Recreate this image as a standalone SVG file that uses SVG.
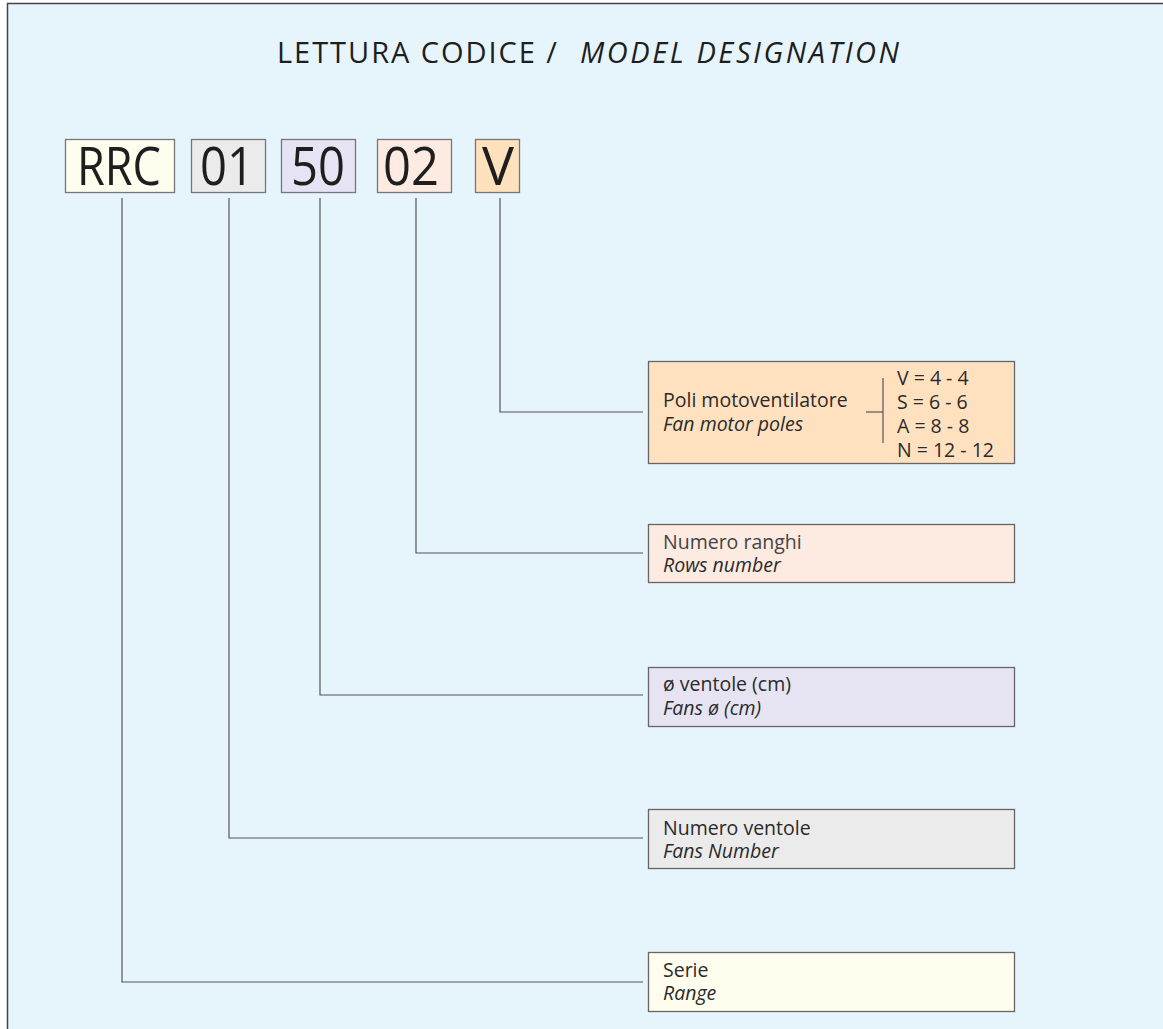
<svg xmlns="http://www.w3.org/2000/svg" width="1163" height="1029" viewBox="0 0 1163 1029">
<style>
.code{stroke:#777;stroke-width:1.3}
.code-t{font-family:"Open Sans","Liberation Sans",sans-serif;font-size:53px;fill:#1e1e1e;text-anchor:middle}
.desc{stroke:#666;stroke-width:1.3}
.t{font-family:"Open Sans","Liberation Sans",sans-serif;font-size:19.5px;fill:#2a2a2a}
.i{font-style:italic}
.conn{fill:none;stroke:#555;stroke-width:1.2}
.title{font-family:"Open Sans","Liberation Sans",sans-serif;font-size:29px;fill:#1e1e1e}
</style>
<rect width="1163" height="1029" fill="#ffffff"/>
<rect x="7.5" y="3.5" width="1200" height="1100" fill="#E6F4FC" stroke="#444" stroke-width="1.5"/>
<g id="title">
<text class="title" x="277" y="63" textLength="280" lengthAdjust="spacing">LETTURA CODICE /</text>
<text class="title i" x="580" y="63" textLength="319" lengthAdjust="spacing">MODEL DESIGNATION</text>
</g>
<g id="code-RRC"><rect class="code" x="65.5" y="139.5" width="109" height="53" fill="#FFFDEE"/><text class="code-t" x="119" y="185" textLength="84" lengthAdjust="spacingAndGlyphs">RRC</text></g>
<g id="code-01"><rect class="code" x="191.5" y="139.5" width="74" height="53" fill="#EBEBEB"/><text class="code-t" x="227" y="185" textLength="54" lengthAdjust="spacingAndGlyphs">01</text></g>
<g id="code-50"><rect class="code" x="281.5" y="139.5" width="74" height="53" fill="#E6E4F4"/><text class="code-t" x="318" y="185" textLength="54" lengthAdjust="spacingAndGlyphs">50</text></g>
<g id="code-02"><rect class="code" x="377.5" y="139.5" width="74" height="53" fill="#FDEAE1"/><text class="code-t" x="411" y="185" textLength="56" lengthAdjust="spacingAndGlyphs">02</text></g>
<g id="code-V"><rect class="code" x="475.5" y="139.5" width="44" height="53" fill="#FFE1BE"/><text class="code-t" x="498" y="185" textLength="32" lengthAdjust="spacingAndGlyphs">V</text></g>
<g id="connectors">
<polyline class="conn" points="500,198 500,412 643,412"/>
<polyline class="conn" points="416,198 416,553 643,553"/>
<polyline class="conn" points="320,198 320,695 643,695"/>
<polyline class="conn" points="229,198 229,838 643,838"/>
<polyline class="conn" points="122,198 122,982 643,982"/>
</g>
<g id="desc-poles">
<rect class="desc" x="648.5" y="361.5" width="366" height="102" fill="#FFE1C0"/>
<text class="t" x="663" y="407">Poli motoventilatore</text>
<text class="t i" x="663" y="431">Fan motor poles</text>
<polyline class="conn" points="866,412 883,412"/>
<line class="conn" x1="883" y1="378" x2="883" y2="443"/>
<text class="t" x="897" y="385">V = 4 - 4</text>
<text class="t" x="897" y="409">S = 6 - 6</text>
<text class="t" x="897" y="433">A = 8 - 8</text>
<text class="t" x="897" y="457">N = 12 - 12</text>
</g>
<g id="desc-rows">
<rect class="desc" x="648.5" y="524.5" width="366" height="58" fill="#FDEAE1"/>
<text class="t" x="663" y="549" fill="#444" style="fill:#444">Numero ranghi</text>
<text class="t i" x="663" y="572">Rows number</text>
</g>
<g id="desc-fans-diam">
<rect class="desc" x="648.5" y="667.5" width="366" height="59" fill="#E6E4F2"/>
<text class="t" x="663" y="691">ø ventole (cm)</text>
<text class="t i" x="663" y="715">Fans ø (cm)</text>
</g>
<g id="desc-fans-num">
<rect class="desc" x="648.5" y="809.5" width="366" height="59" fill="#EBEBEB"/>
<text class="t" x="663" y="835">Numero ventole</text>
<text class="t i" x="663" y="858">Fans Number</text>
</g>
<g id="desc-range">
<rect class="desc" x="648.5" y="952.5" width="366" height="59" fill="#FFFDEE"/>
<text class="t" x="663" y="977">Serie</text>
<text class="t i" x="663" y="1000">Range</text>
</g>
</svg>
